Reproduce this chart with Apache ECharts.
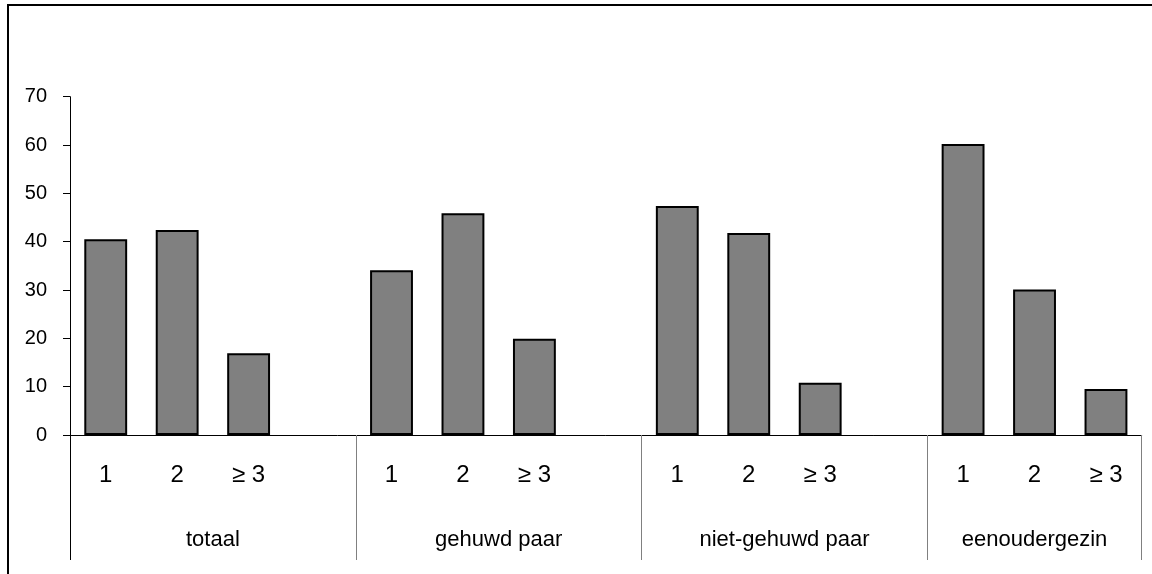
<!DOCTYPE html>
<html>
<head>
<meta charset="utf-8">
<script src="https://cdn.jsdelivr.net/npm/echarts@6/dist/echarts.min.js"></script>
<style>
html,body{margin:0;padding:0;background:#fff;}
#chart{width:1152px;height:574px;}
</style>
</head>
<body>
<div id="chart"></div>
<script>
const slotLabels = ['1','2','\u2265 3','','1','2','\u2265 3','','1','2','\u2265 3','','1','2','\u2265 3'];
const values = [40.5,42.4,16.9,null,34.1,45.9,19.9,null,47.4,41.8,10.8,null,60.2,30.1,9.5];
const groups = ['totaal','gehuwd paar','niet-gehuwd paar','eenoudergezin'];
const groupSizes = [4,4,4,3];
const yTicks = [0,10,20,30,40,50,60,70];

const starts = [];
let acc = 0;
groupSizes.forEach(s => { starts.push(acc); acc += s; });
const total = acc;
const centers = groupSizes.map((s,i) => starts[i] + s/2);
const innerBounds = starts.slice(1).concat([total]);
const nameAt = {};
centers.forEach((c,i) => { nameAt[c] = groups[i]; });

const xFont = 'Liberation Sans, Arial, sans-serif';

const chart = echarts.init(document.getElementById('chart'), null, {renderer:'canvas'});
chart.setOption({
  animation:false,
  backgroundColor:'#fff',
  graphic:[{type:'rect', shape:{x:8,y:5,width:1300,height:800}, style:{fill:'none',stroke:'#000',lineWidth:2}, silent:true}],
  grid:{left:70,right:10.3,top:96.7,bottom:139,containLabel:false},
  yAxis:{
    type:'value', min:yTicks[0], max:yTicks[yTicks.length-1], interval:10,
    axisLine:{show:true,lineStyle:{color:'#000',width:1}},
    axisTick:{show:true,inside:false,length:7,lineStyle:{color:'#000'}},
    splitLine:{show:false},
    axisLabel:{fontFamily:'Liberation Sans, Arial, sans-serif',fontSize:20,color:'#000',margin:23}
  },
  xAxis:[
    {
      type:'category', data:slotLabels, boundaryGap:true,
      axisLine:{show:true,onZero:false,lineStyle:{color:'#000',width:1}},
      axisTick:{show:false},
      axisLabel:{interval:0,fontFamily:xFont,fontSize:24,color:'#000',margin:28}
    },
    {
      type:'value', min:0, max:total, position:'bottom',
      axisLine:{show:false},
      splitLine:{show:false},
      axisTick:{show:true,inside:false,length:125,customValues:innerBounds,lineStyle:{color:'#808080',width:1}},
      axisLabel:{show:true,customValues:centers,formatter:v => nameAt[v] || '',fontFamily:xFont,fontSize:22,color:'#000',margin:94}
    },
    {
      type:'value', min:0, max:total, position:'bottom',
      axisLine:{show:false},
      splitLine:{show:false},
      axisTick:{show:true,inside:false,length:125,customValues:[0],lineStyle:{color:'#000',width:1}},
      axisLabel:{show:false}
    }
  ],
  series:[{
    type:'bar', xAxisIndex:0, data:values, barWidth:'60%',
    itemStyle:{color:'#808080',borderColor:'#000',borderWidth:2}
  }]
});
</script>
</body>
</html>
